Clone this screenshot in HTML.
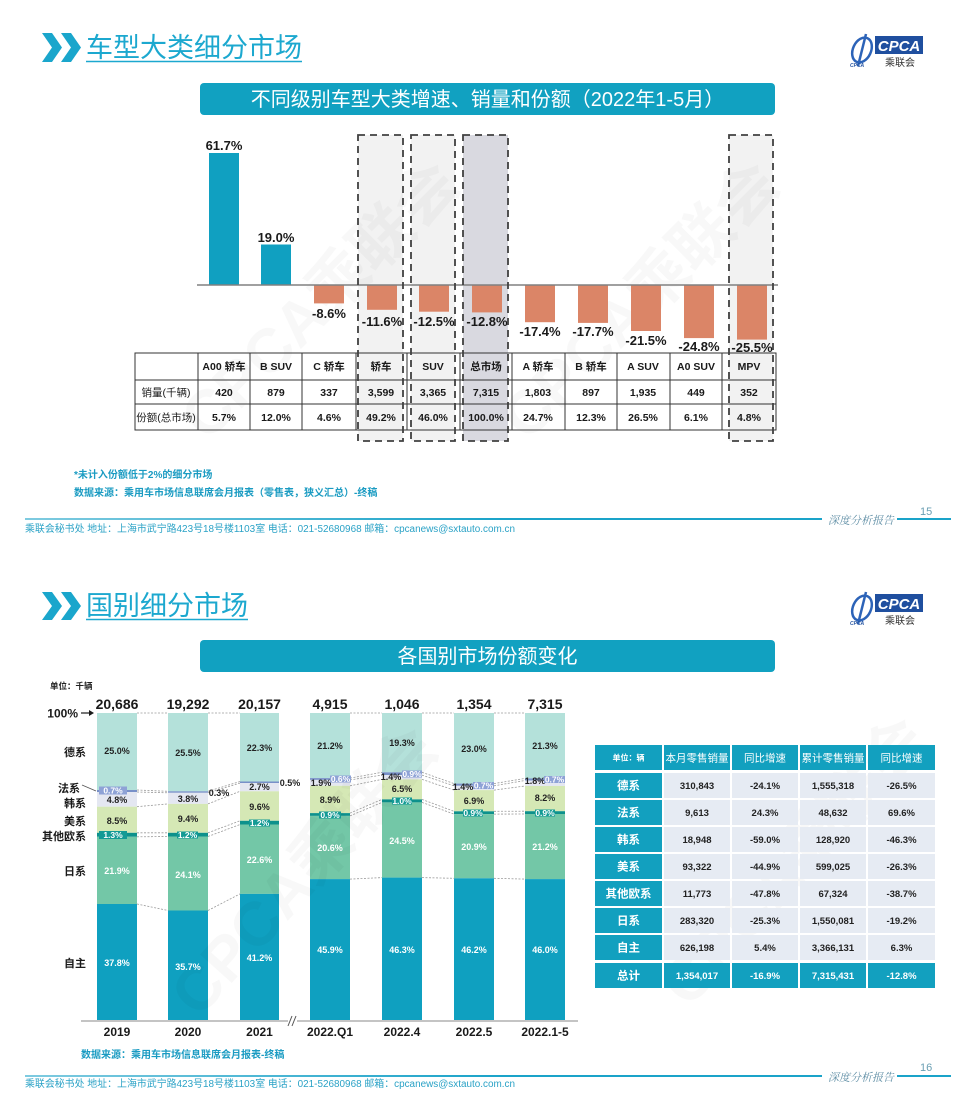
<!DOCTYPE html>
<html><head><meta charset="utf-8"><style>
html,body{margin:0;padding:0;background:#fff;}
svg{display:block;font-family:"Liberation Sans","Noto Sans CJK SC",sans-serif;}
</style></head><body>
<svg width="976" height="1102" viewBox="0 0 976 1102" xmlns="http://www.w3.org/2000/svg">
<defs>
<linearGradient id="fl" x1="0" x2="1" y1="0" y2="0"><stop offset="0" stop-color="#7fcbe0"/><stop offset="0.6" stop-color="#1aa3c9"/><stop offset="1" stop-color="#1aa3c9"/></linearGradient>
</defs>
<rect width="976" height="1102" fill="#fff"/>

<!-- ============ TOP SLIDE ============ -->
<polygon points="42,33 52,33 62,47.5 52,62 42,62 52,47.5" fill="#1aa6cc"/>
<polygon points="61,33 71,33 81,47.5 71,62 61,62 71,47.5" fill="#1aa6cc"/>
<text x="86" y="57" font-size="27" fill="#1ca8cf">车型大类细分市场</text>
<line x1="86" y1="61.5" x2="302" y2="61.5" stroke="#1ca8cf" stroke-width="1.5"/>

<!-- logo top -->
<g>
<ellipse cx="862" cy="50" rx="9" ry="13" fill="none" stroke="#2c63b8" stroke-width="2.5" transform="rotate(25 862 50)"/>
<path d="M866 34 L858 66" stroke="#2c63b8" stroke-width="2.5"/>
<rect x="875" y="36" width="48" height="18" fill="#1f4f9f"/>
<text x="899" y="51" font-size="15" font-style="italic" font-weight="bold" fill="#fff" text-anchor="middle">CPCA</text>
<text x="900" y="66" font-size="10" fill="#333" text-anchor="middle">乘联会</text>
<text x="850" y="67" font-size="5" font-style="italic" font-weight="bold" fill="#1f4f9f">CPCA</text>
</g>

<rect x="200" y="83" width="575" height="32" rx="4" fill="#11a1c1"/>
<text x="487.5" y="106" font-size="20" fill="#fff" text-anchor="middle">不同级别车型大类增速、销量和份额（2022年1-5月）</text>

<!-- highlight boxes fill -->
<rect x="358" y="135" width="45" height="306" fill="#f2f2f2"/>
<rect x="411" y="135" width="44" height="306" fill="#f2f2f2"/>
<rect x="463" y="135" width="45" height="306" fill="#d9d9e0"/>
<rect x="729" y="135" width="44" height="306" fill="#f2f2f2"/>

<!-- watermark top -->
<text font-size="62" font-weight="bold" fill="#000" fill-opacity="0.028" text-anchor="middle" transform="translate(335,315) rotate(-45)">CPCA乘联会</text>
<text font-size="62" font-weight="bold" fill="#000" fill-opacity="0.028" text-anchor="middle" transform="translate(655,315) rotate(-45)">CPCA乘联会</text>

<!-- bars -->
<g fill="#10a0c1">
<rect x="209" y="153" width="30" height="132"/>
<rect x="261" y="244.5" width="30" height="40.5"/>
</g>
<g fill="#db8567">
<rect x="314" y="285" width="30" height="18.4"/>
<rect x="367" y="285" width="30" height="24.8"/>
<rect x="419" y="285" width="30" height="26.7"/>
<rect x="472" y="285" width="30" height="27.4"/>
<rect x="525" y="285" width="30" height="37.2"/>
<rect x="578" y="285" width="30" height="37.9"/>
<rect x="631" y="285" width="30" height="46"/>
<rect x="684" y="285" width="30" height="53.1"/>
<rect x="737" y="285" width="30" height="54.6"/>
</g>
<line x1="197" y1="285" x2="778" y2="285" stroke="#808080" stroke-width="1.5"/>

<g font-size="13" font-weight="bold" fill="#1a1a1a" text-anchor="middle">
<text x="224" y="150">61.7%</text>
<text x="276" y="242">19.0%</text>
<text x="329" y="318">-8.6%</text>
<text x="382" y="326">-11.6%</text>
<text x="434" y="326">-12.5%</text>
<text x="487" y="326">-12.8%</text>
<text x="540" y="336">-17.4%</text>
<text x="593" y="336">-17.7%</text>
<text x="646" y="345">-21.5%</text>
<text x="699" y="351">-24.8%</text>
<text x="752" y="352">-25.5%</text>
</g>

<!-- top table -->
<g stroke="#333" stroke-width="1" fill="none">
<rect x="135" y="353" width="641" height="77"/>
<line x1="135" y1="380" x2="776" y2="380"/>
<line x1="135" y1="404" x2="776" y2="404"/>
<line x1="198" y1="353" x2="198" y2="430"/>
<line x1="250" y1="353" x2="250" y2="430"/>
<line x1="302" y1="353" x2="302" y2="430"/>
<line x1="356" y1="353" x2="356" y2="430"/>
<line x1="407" y1="353" x2="407" y2="430"/>
<line x1="460" y1="353" x2="460" y2="430"/>
<line x1="512" y1="353" x2="512" y2="430"/>
<line x1="565" y1="353" x2="565" y2="430"/>
<line x1="617" y1="353" x2="617" y2="430"/>
<line x1="670" y1="353" x2="670" y2="430"/>
<line x1="722" y1="353" x2="722" y2="430"/>
</g>
<g font-size="10.5" font-weight="bold" fill="#1a1a1a" text-anchor="middle">
<text x="224" y="370">A00 轿车</text>
<text x="276" y="370">B SUV</text>
<text x="329" y="370">C 轿车</text>
<text x="381" y="370">轿车</text>
<text x="433" y="370">SUV</text>
<text x="486" y="370">总市场</text>
<text x="538" y="370">A 轿车</text>
<text x="591" y="370">B 轿车</text>
<text x="643" y="370">A SUV</text>
<text x="696" y="370">A0 SUV</text>
<text x="749" y="370">MPV</text>
<text x="224" y="396">420</text>
<text x="276" y="396">879</text>
<text x="329" y="396">337</text>
<text x="381" y="396">3,599</text>
<text x="433" y="396">3,365</text>
<text x="486" y="396">7,315</text>
<text x="538" y="396">1,803</text>
<text x="591" y="396">897</text>
<text x="643" y="396">1,935</text>
<text x="696" y="396">449</text>
<text x="749" y="396">352</text>
<text x="224" y="421">5.7%</text>
<text x="276" y="421">12.0%</text>
<text x="329" y="421">4.6%</text>
<text x="381" y="421">49.2%</text>
<text x="433" y="421">46.0%</text>
<text x="486" y="421">100.0%</text>
<text x="538" y="421">24.7%</text>
<text x="591" y="421">12.3%</text>
<text x="643" y="421">26.5%</text>
<text x="696" y="421">6.1%</text>
<text x="749" y="421">4.8%</text>
</g>
<g font-size="10.5" fill="#1a1a1a" text-anchor="middle">
<text x="166" y="396">销量(千辆)</text>
<text x="166" y="421">份额(总市场)</text>
</g>

<!-- dashed box outlines -->
<g fill="none" stroke="#404040" stroke-width="1.8" stroke-dasharray="7 5">
<rect x="358" y="135" width="45" height="306"/>
<rect x="411" y="135" width="44" height="306"/>
<rect x="463" y="135" width="45" height="306"/>
<rect x="729" y="135" width="44" height="306"/>
</g>

<!-- notes -->
<g font-size="10" font-weight="bold" fill="#1a9bc2">
<text x="74" y="478">*未计入份额低于2%的细分市场</text>
<text x="74" y="496">数据来源：乘用车市场信息联席会月报表（零售表，狭义汇总）-终稿</text>
</g>

<!-- footer top -->
<rect x="25" y="518" width="797" height="2" fill="url(#fl)"/>
<rect x="897" y="518" width="54" height="2" fill="#1aa3c9"/>
<text x="828" y="524" font-size="11" font-style="italic" fill="#5f8ea5" font-family="Noto Serif CJK SC, serif">深度分析报告</text>
<text x="920" y="515" font-size="11" fill="#6a9fb3">15</text>
<text x="25" y="532" font-size="10" fill="#2aa2c6" textLength="490" lengthAdjust="spacingAndGlyphs">乘联会秘书处  地址：上海市武宁路423号18号楼1103室  电话：021-52680968  邮箱：cpcanews@sxtauto.com.cn</text>

<!-- ============ BOTTOM SLIDE ============ -->
<polygon points="42,592 52,592 62,606 52,620 42,620 52,606" fill="#1aa6cc"/>
<polygon points="61,592 71,592 81,606 71,620 61,620 71,606" fill="#1aa6cc"/>
<text x="86" y="615" font-size="27" fill="#1ca8cf">国别细分市场</text>
<line x1="86" y1="619.5" x2="248" y2="619.5" stroke="#1ca8cf" stroke-width="1.5"/>

<g>
<ellipse cx="862" cy="608" rx="9" ry="13" fill="none" stroke="#2c63b8" stroke-width="2.5" transform="rotate(25 862 608)"/>
<path d="M866 592 L858 624" stroke="#2c63b8" stroke-width="2.5"/>
<rect x="875" y="594" width="48" height="18" fill="#1f4f9f"/>
<text x="899" y="609" font-size="15" font-style="italic" font-weight="bold" fill="#fff" text-anchor="middle">CPCA</text>
<text x="900" y="624" font-size="10" fill="#333" text-anchor="middle">乘联会</text>
<text x="850" y="625" font-size="5" font-style="italic" font-weight="bold" fill="#1f4f9f">CPCA</text>
</g>

<rect x="200" y="640" width="575" height="32" rx="4" fill="#11a1c1"/>
<text x="487.5" y="663" font-size="20" fill="#fff" text-anchor="middle">各国别市场份额变化</text>

<text x="50" y="689" font-size="8.5" font-weight="bold" fill="#222">单位：千辆</text>

<!-- totals -->
<g font-size="14" font-weight="bold" fill="#1a1a1a" text-anchor="middle">
<text x="117" y="709">20,686</text>
<text x="188" y="709">19,292</text>
<text x="259.5" y="709">20,157</text>
<text x="330" y="709">4,915</text>
<text x="402" y="709">1,046</text>
<text x="474" y="709">1,354</text>
<text x="545" y="709">7,315</text>
</g>
<text x="78" y="717.5" font-size="12" font-weight="bold" fill="#1a1a1a" text-anchor="end">100%</text>
<line x1="81" y1="713" x2="91" y2="713" stroke="#1a1a1a" stroke-width="1.2"/>
<polygon points="94,713 89,710 89,716" fill="#1a1a1a"/>

<!-- bars stacked -->
<g>
<rect x="97" y="713" width="40" height="77" fill="#b4e1da"/>
<rect x="97" y="790" width="40" height="2" fill="#7890c8"/>
<rect x="97" y="792" width="40" height="14.7" fill="#e4e7f1"/>
<rect x="97" y="806.7" width="40" height="26.1" fill="#d5e8b5"/>
<rect x="97" y="832.8" width="40" height="4" fill="#0d918c"/>
<rect x="97" y="836.8" width="40" height="67.2" fill="#73c7a7"/>
<rect x="97" y="904" width="40" height="116" fill="#0fa0c0"/>
</g>
<g>
<rect x="168" y="713" width="40" height="78.3" fill="#b4e1da"/>
<rect x="168" y="791.3" width="40" height="1.5" fill="#7890c8"/>
<rect x="168" y="792.8" width="40" height="11.1" fill="#e4e7f1"/>
<rect x="168" y="803.9" width="40" height="28.9" fill="#d5e8b5"/>
<rect x="168" y="832.8" width="40" height="3.7" fill="#0d918c"/>
<rect x="168" y="836.5" width="40" height="74" fill="#73c7a7"/>
<rect x="168" y="910.5" width="40" height="109.5" fill="#0fa0c0"/>
</g>
<g>
<rect x="240" y="713" width="39" height="68.5" fill="#b4e1da"/>
<rect x="240" y="781.5" width="39" height="1.6" fill="#7890c8"/>
<rect x="240" y="783.1" width="39" height="8.2" fill="#e4e7f1"/>
<rect x="240" y="791.3" width="39" height="29.5" fill="#d5e8b5"/>
<rect x="240" y="820.8" width="39" height="3.7" fill="#0d918c"/>
<rect x="240" y="824.5" width="39" height="69.4" fill="#73c7a7"/>
<rect x="240" y="893.9" width="39" height="126.1" fill="#0fa0c0"/>
</g>
<g>
<rect x="310" y="713" width="40" height="65.1" fill="#b4e1da"/>
<rect x="310" y="778.1" width="40" height="1.8" fill="#7890c8"/>
<rect x="310" y="779.9" width="40" height="5.9" fill="#e4e7f1"/>
<rect x="310" y="785.8" width="40" height="27.3" fill="#d5e8b5"/>
<rect x="310" y="813.1" width="40" height="2.8" fill="#0d918c"/>
<rect x="310" y="815.9" width="40" height="63.2" fill="#73c7a7"/>
<rect x="310" y="879.1" width="40" height="140.9" fill="#0fa0c0"/>
</g>
<g>
<rect x="382" y="713" width="40" height="59.3" fill="#b4e1da"/>
<rect x="382" y="772.3" width="40" height="2.8" fill="#7890c8"/>
<rect x="382" y="775.1" width="40" height="4.3" fill="#e4e7f1"/>
<rect x="382" y="779.4" width="40" height="20" fill="#d5e8b5"/>
<rect x="382" y="799.4" width="40" height="3" fill="#0d918c"/>
<rect x="382" y="802.4" width="40" height="75.2" fill="#73c7a7"/>
<rect x="382" y="877.6" width="40" height="142.4" fill="#0fa0c0"/>
</g>
<g>
<rect x="454" y="713" width="40" height="70.6" fill="#b4e1da"/>
<rect x="454" y="783.6" width="40" height="2.2" fill="#7890c8"/>
<rect x="454" y="785.8" width="40" height="4.3" fill="#e4e7f1"/>
<rect x="454" y="790.1" width="40" height="21.2" fill="#d5e8b5"/>
<rect x="454" y="811.3" width="40" height="2.8" fill="#0d918c"/>
<rect x="454" y="814.1" width="40" height="64.2" fill="#73c7a7"/>
<rect x="454" y="878.3" width="40" height="141.7" fill="#0fa0c0"/>
</g>
<g>
<rect x="525" y="713" width="40" height="65.4" fill="#b4e1da"/>
<rect x="525" y="778.4" width="40" height="2.1" fill="#7890c8"/>
<rect x="525" y="780.5" width="40" height="5.5" fill="#e4e7f1"/>
<rect x="525" y="786" width="40" height="25.2" fill="#d5e8b5"/>
<rect x="525" y="811.2" width="40" height="2.8" fill="#0d918c"/>
<rect x="525" y="814" width="40" height="65.1" fill="#73c7a7"/>
<rect x="525" y="879.1" width="40" height="140.9" fill="#0fa0c0"/>
</g>

<!-- connectors -->
<path fill="none" stroke="#9a9a9a" stroke-width="0.8" stroke-dasharray="2 1.5" d="
M137 713L168 713 M137 790L168 791.3 M137 792L168 792.8 M137 806.7L168 803.9 M137 832.8L168 832.8 M137 836.8L168 836.5 M137 904L168 910.5
M208 713L240 713 M208 791.3L240 781.5 M208 792.8L240 783.1 M208 803.9L240 791.3 M208 832.8L240 820.8 M208 836.5L240 824.5 M208 910.5L240 893.9
M350 713L382 713 M350 778.1L382 772.3 M350 779.9L382 775.1 M350 785.8L382 779.4 M350 813.1L382 799.4 M350 815.9L382 802.4 M350 879.1L382 877.6
M422 713L454 713 M422 772.3L454 783.6 M422 775.1L454 785.8 M422 779.4L454 790.1 M422 799.4L454 811.3 M422 802.4L454 814.1 M422 877.6L454 878.3
M494 713L525 713 M494 783.6L525 778.4 M494 785.8L525 780.5 M494 790.1L525 786 M494 811.3L525 811.2 M494 814.1L525 814 M494 878.3L525 879.1"/>

<!-- watermark bottom -->
<text font-size="62" font-weight="bold" fill="#000" fill-opacity="0.028" text-anchor="middle" transform="translate(320,885) rotate(-48)">CPCA乘联会</text>
<text font-size="62" font-weight="bold" fill="#000" fill-opacity="0.028" text-anchor="middle" transform="translate(810,875) rotate(-48)">CPCA乘联会</text>

<!-- segment labels -->
<g font-size="9" font-weight="bold" fill="#222" text-anchor="middle">
<text x="117" y="754">25.0%</text>
<text x="188" y="756">25.5%</text>
<text x="259.5" y="751">22.3%</text>
<text x="330" y="749">21.2%</text>
<text x="402" y="746">19.3%</text>
<text x="474" y="752">23.0%</text>
<text x="545" y="749">21.3%</text>
<text x="117" y="803">4.8%</text>
<text x="188" y="802">3.8%</text>
<text x="259.5" y="790">2.7%</text>
<text x="117" y="824">8.5%</text>
<text x="188" y="822">9.4%</text>
<text x="259.5" y="810">9.6%</text>
<text x="330" y="803">8.9%</text>
<text x="402" y="792">6.5%</text>
<text x="474" y="804">6.9%</text>
<text x="545" y="801">8.2%</text>
<text x="321" y="786">1.9%</text>
<text x="391" y="780">1.4%</text>
<text x="463" y="790">1.4%</text>
<text x="535" y="784">1.8%</text>
<text x="219" y="796">0.3%</text>
<text x="290" y="786">0.5%</text>
</g>
<g font-size="9" font-weight="bold" fill="#fff" text-anchor="middle">
<text x="117" y="874">21.9%</text>
<text x="188" y="878">24.1%</text>
<text x="259.5" y="863">22.6%</text>
<text x="330" y="851">20.6%</text>
<text x="402" y="844">24.5%</text>
<text x="474" y="850">20.9%</text>
<text x="545" y="850">21.2%</text>
<text x="117" y="966">37.8%</text>
<text x="188" y="970">35.7%</text>
<text x="259.5" y="961">41.2%</text>
<text x="330" y="953">45.9%</text>
<text x="402" y="953">46.3%</text>
<text x="474" y="953">46.2%</text>
<text x="545" y="953">46.0%</text>
</g>
<g fill="#8ea2d6">
<rect x="99" y="786.5" width="28" height="8"/>
<rect x="330" y="775.5" width="21" height="7"/>
<rect x="402" y="770.5" width="20" height="7"/>
<rect x="473" y="782" width="21" height="7"/>
<rect x="544" y="776" width="21" height="7"/>
</g>
<g fill="#139a95">
<rect x="99" y="831" width="28" height="8"/>
<rect x="177" y="831.5" width="21" height="7"/>
<rect x="249" y="819.5" width="21" height="7"/>
<rect x="319" y="811.5" width="22" height="7"/>
<rect x="392" y="797.5" width="20" height="7"/>
<rect x="463" y="809.5" width="20" height="7"/>
<rect x="535" y="809.5" width="20" height="7"/>
</g>
<g font-size="8.5" font-weight="bold" fill="#fff" text-anchor="middle">
<text x="113" y="793.5">0.7%</text>
<text x="340.5" y="782">0.6%</text>
<text x="412" y="777">0.9%</text>
<text x="483.5" y="788.5">0.7%</text>
<text x="554.5" y="782.5">0.7%</text>
<text x="113" y="838">1.3%</text>
<text x="187.5" y="838">1.2%</text>
<text x="259.5" y="826">1.2%</text>
<text x="330" y="818">0.9%</text>
<text x="402" y="804">1.0%</text>
<text x="473" y="816">0.9%</text>
<text x="545" y="816">0.9%</text>
</g>

<!-- left labels -->
<g font-size="11" font-weight="bold" fill="#1a1a1a" text-anchor="end">
<text x="86" y="756">德系</text>
<text x="80" y="792">法系</text>
<text x="86" y="807">韩系</text>
<text x="86" y="825">美系</text>
<text x="86" y="840">其他欧系</text>
<text x="86" y="875">日系</text>
<text x="86" y="967">自主</text>
</g>
<line x1="82" y1="785" x2="96" y2="791" stroke="#555" stroke-width="0.8"/>

<!-- axis -->
<line x1="81" y1="1021" x2="578" y2="1021" stroke="#888" stroke-width="1"/>
<rect x="288" y="1015" width="9" height="12" fill="#fff"/>
<line x1="288" y1="1026" x2="292" y2="1016" stroke="#555" stroke-width="1"/>
<line x1="292" y1="1026" x2="296" y2="1016" stroke="#555" stroke-width="1"/>
<g font-size="12" font-weight="bold" fill="#1a1a1a" text-anchor="middle">
<text x="117" y="1036">2019</text>
<text x="188" y="1036">2020</text>
<text x="259.5" y="1036">2021</text>
<text x="330" y="1036">2022.Q1</text>
<text x="402" y="1036">2022.4</text>
<text x="474" y="1036">2022.5</text>
<text x="545" y="1036">2022.1-5</text>
</g>
<text x="81" y="1058" font-size="10" font-weight="bold" fill="#1a9bc2">数据来源：乘用车市场信息联席会月报表-终稿</text>

<!-- right table -->
<g fill="#12a0bf">
<rect x="595" y="745" width="67" height="25"/>
<rect x="664" y="745" width="66" height="25"/>
<rect x="732" y="745" width="66" height="25"/>
<rect x="800" y="745" width="66" height="25"/>
<rect x="868" y="745" width="67" height="25"/>
<rect x="595" y="773" width="67" height="25"/>
<rect x="595" y="800" width="67" height="25"/>
<rect x="595" y="827" width="67" height="25"/>
<rect x="595" y="854" width="67" height="25"/>
<rect x="595" y="881" width="67" height="25"/>
<rect x="595" y="908" width="67" height="25"/>
<rect x="595" y="935" width="67" height="25"/>
<rect x="595" y="963" width="67" height="25"/>
<rect x="664" y="963" width="66" height="25"/>
<rect x="732" y="963" width="66" height="25"/>
<rect x="800" y="963" width="66" height="25"/>
<rect x="868" y="963" width="67" height="25"/>
</g>
<g fill="#e6ebf3">
<rect x="664" y="773" width="66" height="25"/><rect x="732" y="773" width="66" height="25"/><rect x="800" y="773" width="66" height="25"/><rect x="868" y="773" width="67" height="25"/>
<rect x="664" y="800" width="66" height="25"/><rect x="732" y="800" width="66" height="25"/><rect x="800" y="800" width="66" height="25"/><rect x="868" y="800" width="67" height="25"/>
<rect x="664" y="827" width="66" height="25"/><rect x="732" y="827" width="66" height="25"/><rect x="800" y="827" width="66" height="25"/><rect x="868" y="827" width="67" height="25"/>
<rect x="664" y="854" width="66" height="25"/><rect x="732" y="854" width="66" height="25"/><rect x="800" y="854" width="66" height="25"/><rect x="868" y="854" width="67" height="25"/>
<rect x="664" y="881" width="66" height="25"/><rect x="732" y="881" width="66" height="25"/><rect x="800" y="881" width="66" height="25"/><rect x="868" y="881" width="67" height="25"/>
<rect x="664" y="908" width="66" height="25"/><rect x="732" y="908" width="66" height="25"/><rect x="800" y="908" width="66" height="25"/><rect x="868" y="908" width="67" height="25"/>
<rect x="664" y="935" width="66" height="25"/><rect x="732" y="935" width="66" height="25"/><rect x="800" y="935" width="66" height="25"/><rect x="868" y="935" width="67" height="25"/>
</g>
<text x="628.5" y="760.5" font-size="8" font-weight="bold" fill="#fff" text-anchor="middle">单位：辆</text>
<g font-size="10.5" fill="#fff" text-anchor="middle">
<text x="697" y="761.5">本月零售销量</text>
<text x="765" y="761.5">同比增速</text>
<text x="833" y="761.5">累计零售销量</text>
<text x="901.5" y="761.5">同比增速</text>
</g>
<g font-size="11.5" font-weight="bold" fill="#fff" text-anchor="middle">
<text x="628.5" y="789.5">德系</text>
<text x="628.5" y="816.5">法系</text>
<text x="628.5" y="843.5">韩系</text>
<text x="628.5" y="870.5">美系</text>
<text x="628.5" y="897.5">其他欧系</text>
<text x="628.5" y="924.5">日系</text>
<text x="628.5" y="951.5">自主</text>
<text x="628.5" y="979.5">总计</text>
</g>
<g font-size="9.5" font-weight="bold" fill="#222" text-anchor="middle">
<text x="697" y="789">310,843</text><text x="765" y="789">-24.1%</text><text x="833" y="789">1,555,318</text><text x="901.5" y="789">-26.5%</text>
<text x="697" y="816">9,613</text><text x="765" y="816">24.3%</text><text x="833" y="816">48,632</text><text x="901.5" y="816">69.6%</text>
<text x="697" y="843">18,948</text><text x="765" y="843">-59.0%</text><text x="833" y="843">128,920</text><text x="901.5" y="843">-46.3%</text>
<text x="697" y="870">93,322</text><text x="765" y="870">-44.9%</text><text x="833" y="870">599,025</text><text x="901.5" y="870">-26.3%</text>
<text x="697" y="897">11,773</text><text x="765" y="897">-47.8%</text><text x="833" y="897">67,324</text><text x="901.5" y="897">-38.7%</text>
<text x="697" y="924">283,320</text><text x="765" y="924">-25.3%</text><text x="833" y="924">1,550,081</text><text x="901.5" y="924">-19.2%</text>
<text x="697" y="951">626,198</text><text x="765" y="951">5.4%</text><text x="833" y="951">3,366,131</text><text x="901.5" y="951">6.3%</text>
</g>
<g font-size="9.5" font-weight="bold" fill="#fff" text-anchor="middle">
<text x="697" y="979">1,354,017</text><text x="765" y="979">-16.9%</text><text x="833" y="979">7,315,431</text><text x="901.5" y="979">-12.8%</text>
</g>

<!-- footer bottom -->
<rect x="25" y="1075" width="797" height="2" fill="url(#fl)"/>
<rect x="897" y="1075" width="54" height="2" fill="#1aa3c9"/>
<text x="828" y="1081" font-size="11" font-style="italic" fill="#5f8ea5" font-family="Noto Serif CJK SC, serif">深度分析报告</text>
<text x="920" y="1071" font-size="11" fill="#6a9fb3">16</text>
<text x="25" y="1087" font-size="10" fill="#2aa2c6" textLength="490" lengthAdjust="spacingAndGlyphs">乘联会秘书处  地址：上海市武宁路423号18号楼1103室  电话：021-52680968  邮箱：cpcanews@sxtauto.com.cn</text>
</svg>
</body></html>
